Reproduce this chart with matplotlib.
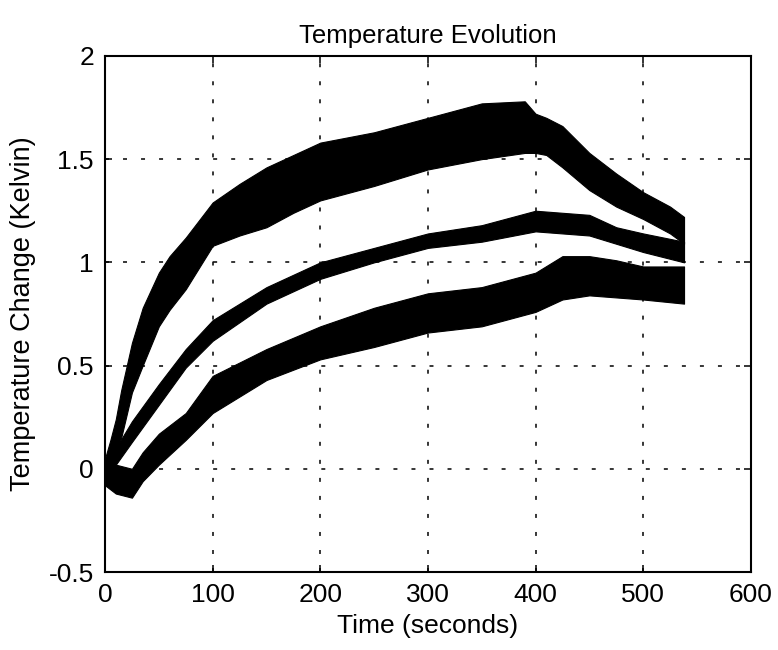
import matplotlib
matplotlib.use("Agg")
import matplotlib.pyplot as plt
import numpy as np

plt.rcParams['font.family'] = ['Liberation Sans', 'DejaVu Sans']

# Time samples (seconds) at which band envelopes were read
t_upper = [0, 5, 10, 15, 25, 35, 50, 60, 75, 100, 125, 150, 175, 200, 250, 300, 350, 390, 400, 410, 425, 450, 475, 500, 525, 538]
upper_lo = [-0.05, 0.00, 0.08, 0.15, 0.37, 0.50, 0.69, 0.77, 0.87, 1.08, 1.13, 1.17, 1.24, 1.30, 1.37, 1.45, 1.50, 1.53, 1.53, 1.52, 1.46, 1.35, 1.27, 1.21, 1.14, 1.09]
upper_hi = [0.05, 0.14, 0.24, 0.38, 0.61, 0.78, 0.95, 1.03, 1.12, 1.29, 1.38, 1.46, 1.52, 1.58, 1.63, 1.70, 1.77, 1.78, 1.72, 1.70, 1.66, 1.53, 1.43, 1.34, 1.27, 1.22]

t_middle = [0, 5, 10, 25, 50, 75, 100, 150, 200, 250, 300, 350, 400, 450, 475, 500, 538]
middle_lo = [-0.03, -0.02, 0.02, 0.13, 0.31, 0.49, 0.62, 0.80, 0.92, 1.00, 1.07, 1.10, 1.15, 1.13, 1.09, 1.05, 1.00]
middle_hi = [0.03, 0.06, 0.10, 0.23, 0.41, 0.58, 0.72, 0.88, 1.00, 1.07, 1.14, 1.18, 1.25, 1.23, 1.17, 1.14, 1.10]

t_lower = [0, 5, 10, 25, 35, 50, 75, 100, 150, 200, 250, 300, 350, 400, 425, 450, 475, 500, 538]
lower_lo = [-0.08, -0.10, -0.12, -0.14, -0.06, 0.02, 0.14, 0.27, 0.43, 0.53, 0.59, 0.66, 0.69, 0.76, 0.82, 0.84, 0.83, 0.82, 0.80]
lower_hi = [0.05, 0.04, 0.02, 0.00, 0.08, 0.17, 0.27, 0.45, 0.58, 0.69, 0.78, 0.85, 0.88, 0.95, 1.03, 1.03, 1.01, 0.98, 0.98]

x_ticks = [0, 100, 200, 300, 400, 500, 600]
y_ticks = [-0.5, 0, 0.5, 1, 1.5, 2]
y_tick_labels = ['-0.5', '0', '0.5', '1', '1.5', '2']

fig = plt.figure(figsize=(7.78, 6.5), dpi=100)
ax = fig.add_axes([0.135, 0.12, 0.830, 0.794])

for t, lo, hi in [(t_upper, upper_lo, upper_hi),
                  (t_middle, middle_lo, middle_hi),
                  (t_lower, lower_lo, lower_hi)]:
    ax.fill_between(t, lo, hi, color='black', linewidth=0.8, edgecolor='black', zorder=3)

ax.set_xlim(0, 600)
ax.set_ylim(-0.5, 2)
ax.set_xticks(x_ticks)
ax.set_yticks(y_ticks)
ax.set_yticklabels(y_tick_labels)
ax.grid(True, color='black', linestyle=(0, (2.6, 9.2)), linewidth=1.1, zorder=1)
ax.tick_params(direction='in', length=5, width=1.1, top=True, right=True,
               labelsize=19, pad=8, colors='black')
for s in ax.spines.values():
    s.set_linewidth(1.5)
    s.set_color('black')

ax.set_title('Temperature Evolution', fontsize=18.5, pad=9)
ax.set_xlabel('Time (seconds)', fontsize=19, labelpad=5)
ax.set_ylabel('Temperature Change (Kelvin)', fontsize=19.5, labelpad=9)

fig.savefig('out.png', dpi=100)
